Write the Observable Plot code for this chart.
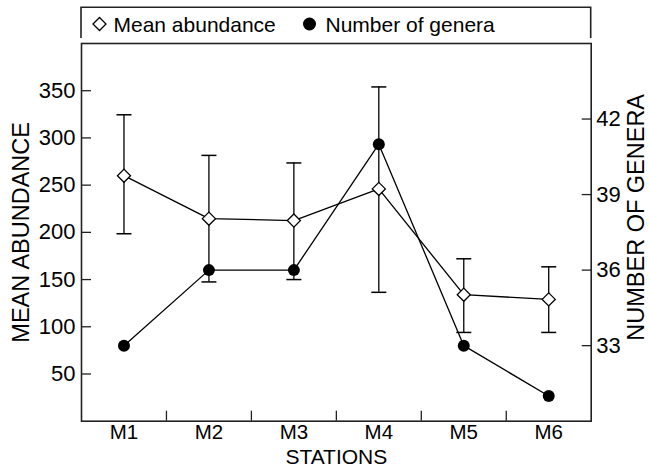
<!DOCTYPE html>
<html>
<head>
<meta charset="utf-8">
<script src="https://cdn.jsdelivr.net/npm/d3@7"></script>
<script src="https://cdn.jsdelivr.net/npm/@observablehq/plot@0.6"></script>
<style>
  html, body { margin: 0; padding: 0; background: #fff; }
  body { font-family: "Liberation Sans", Arial, Helvetica, sans-serif; }
  #legend { display: block; }
  #chart svg { display: block; }
</style>
</head>
<body>
<div id="legend"></div>
<div id="chart"></div>
<script>
// ---- data ----
const stations = ["M1", "M2", "M3", "M4", "M5", "M6"];
const meanAbundance = [260, 214.5, 212.5, 246, 134, 129];
const abundanceHigh = [324.5, 281.5, 273.5, 354, 172, 163.5];
const abundanceLow = [198.5, 147.5, 150, 136.5, 94, 94];
const numberOfGenera = [33, 36, 36, 41, 33, 31];
const abundanceTicks = [50, 100, 150, 200, 250, 300, 350];
const generaTicks = [33, 36, 39, 42];
const abundanceDomain = [0, 400];
const generaDomain = [30, 45];
const legendLabels = ["Mean abundance", "Number of genera"];
const axisTitles = {x: "STATIONS", left: "MEAN ABUNDANCE", right: "NUMBER OF GENERA"};

// map genera onto the abundance scale (dual axis)
const toLeft = g => abundanceDomain[0] + (g - generaDomain[0]) / (generaDomain[1] - generaDomain[0]) * (abundanceDomain[1] - abundanceDomain[0]);
const fromLeft = v => generaDomain[0] + (v - abundanceDomain[0]) / (abundanceDomain[1] - abundanceDomain[0]) * (generaDomain[1] - generaDomain[0]);

const rows = stations.map((s, i) => ({
  i: i + 1,
  station: s,
  mean: meanAbundance[i],
  lo: abundanceLow[i],
  hi: abundanceHigh[i],
  gen: toLeft(numberOfGenera[i])
}));
const stationIdx = stations.map((s, i) => i + 1);
const bounds = d3.range(1, stations.length).map(i => i + 0.5);

// ---- legend (above the plot svg) ----
const ns = "http://www.w3.org/2000/svg";
const leg = d3.select("#legend").append("svg")
  .attr("xmlns", ns).attr("width", 649).attr("height", 38);
leg.append("path")
  .attr("d", "M81,38.5V7.3H590.7V38.5")
  .attr("fill", "none").attr("stroke", "#222").attr("stroke-width", 1.6);
leg.append("polygon")
  .attr("points", "99.5,17.5 106,24 99.5,30.5 93,24")
  .attr("fill", "#fff").attr("stroke", "#000").attr("stroke-width", 1.3);
leg.append("text").attr("x", 113.5).attr("y", 31.5)
  .attr("font-family", "Liberation Sans, Arial, sans-serif").attr("font-size", 21)
  .attr("fill", "#000").text(legendLabels[0]);
leg.append("circle").attr("cx", 309.5).attr("cy", 24).attr("r", 6.5).attr("fill", "#000");
leg.append("text").attr("x", 325.5).attr("y", 31.5)
  .attr("font-family", "Liberation Sans, Arial, sans-serif").attr("font-size", 21)
  .attr("fill", "#000").text(legendLabels[1]);

// ---- plot ----
const capSymbol = {
  draw(ctx, size) {
    const r = Math.sqrt(size / Math.PI);
    ctx.moveTo(-r, 0);
    ctx.lineTo(r, 0);
  }
};

const chart = Plot.plot({
  width: 649,
  height: 431,
  marginTop: 1,
  marginLeft: 81,
  marginRight: 58.3,
  marginBottom: 52.3,
  x: {domain: [0.5, stations.length + 0.5], axis: null},
  y: {domain: abundanceDomain, axis: null},
  style: {fontFamily: "Liberation Sans, Arial, sans-serif", fontSize: "22px", color: "#000", background: "#fff"},
  marks: [
    // error bars
    Plot.ruleX(rows, {x: "i", y1: "lo", y2: "hi", stroke: "#000", strokeWidth: 1.3}),
    Plot.dot(rows, {x: "i", y: "hi", symbol: capSymbol, r: 7.5, stroke: "#000", strokeWidth: 1.5, fill: "none"}),
    Plot.dot(rows, {x: "i", y: "lo", symbol: capSymbol, r: 7.5, stroke: "#000", strokeWidth: 1.5, fill: "none"}),
    // lines
    Plot.line(rows, {x: "i", y: "gen", stroke: "#000", strokeWidth: 1.3}),
    Plot.line(rows, {x: "i", y: "mean", stroke: "#000", strokeWidth: 1.3}),
    // markers
    Plot.dot(rows, {x: "i", y: "gen", r: 6, fill: "#000", stroke: "none"}),
    Plot.dot(rows, {x: "i", y: "mean", symbol: "diamond2", r: 5.9, fill: "#fff", stroke: "#000", strokeWidth: 1.3}),
    // axes
    Plot.axisX(stationIdx, {anchor: "bottom", tickSize: 0, tickPadding: 3.5, fontSize: 20.5, tickFormat: i => stations[i - 1], label: null}),
    Plot.axisX(bounds, {anchor: "bottom", tickSize: -10, tickFormat: () => "", label: null, stroke: "#222", strokeWidth: 1.3}),
    Plot.axisY(abundanceTicks, {anchor: "left", tickSize: -10, tickPadding: 16, label: null, stroke: "#222", strokeWidth: 1.3}),
    Plot.axisY(generaTicks.map(toLeft), {anchor: "right", tickSize: -10, tickPadding: 15, tickFormat: d => String(Math.round(fromLeft(d))), label: null, stroke: "#222", strokeWidth: 1.3}),
    // axis titles
    Plot.text([axisTitles.x], {frameAnchor: "bottom", dy: 42.8, lineAnchor: "bottom", textAnchor: "middle", fontSize: 21}),
    Plot.text([axisTitles.left], {frameAnchor: "left", rotate: -90, dx: -53, lineAnchor: "bottom", textAnchor: "middle", fontSize: 23.5}),
    Plot.text([axisTitles.right], {frameAnchor: "right", rotate: -90, dx: 52.5, dy: -15, lineAnchor: "bottom", textAnchor: "middle", fontSize: 23.5}),
    Plot.frame({stroke: "#222", strokeWidth: 1.6})
  ]
});
document.getElementById("chart").appendChild(chart);
</script>
</body>
</html>
